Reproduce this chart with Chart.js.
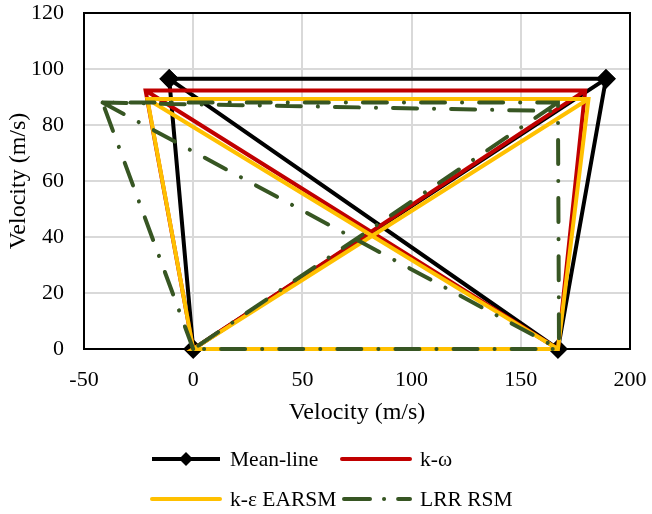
<!DOCTYPE html>
<html>
<head>
<meta charset="utf-8">
<script src="https://cdn.jsdelivr.net/npm/chart.js@4.4.0/dist/chart.umd.min.js"></script>
<style>
  body { margin: 0; background: #fff; }
  #wrap { position: relative; width: 652px; height: 514px; }
  .item { position: absolute; height: 30px; display: flex; align-items: center;
          font-family: "Liberation Serif", "Times New Roman", serif; font-size: 21.5px; color: #000; }
  .item svg { margin-right: 6px; }
</style>
</head>
<body>
<div id="wrap">
  <canvas id="mycanvas" width="652" height="514"></canvas>
  <div class="item" style="left:150px;top:444px">
    <svg width="74" height="20"><line x1="2" y1="10" x2="70" y2="10" stroke="#000" stroke-width="4"/><polygon points="36,3 43,10 36,17 29,10" fill="#000"/></svg>Mean-line</div>
  <div class="item" style="left:340px;top:444px">
    <svg width="74" height="20"><line x1="2" y1="10" x2="70" y2="10" stroke="#C00000" stroke-width="4" stroke-linecap="round"/></svg>k-ω</div>
  <div class="item" style="left:150px;top:484px">
    <svg width="74" height="20"><line x1="2" y1="10" x2="70" y2="10" stroke="#FFC000" stroke-width="4" stroke-linecap="round"/></svg>k-ε EARSM</div>
  <div class="item" style="left:340px;top:484px">
    <svg width="74" height="20"><line x1="4" y1="10" x2="70" y2="10" stroke="#375623" stroke-width="4" stroke-linecap="round" stroke-dasharray="26 14 0.1 14"/></svg>LRR RSM</div>
</div>
<script>
// velocity triangle corners, null = break in the line
var meanX = [0, -11, 189, 167, 0, 189, null, -11, 167];
var meanY = [0, 96.5, 96.5, 0, 0, 96.5, null, 96.5, 0];
var kwX = [0, -21.8, 179.5, 167, 0, 179.5, null, -21.8, 167];
var kwY = [0, 92.3, 92.3, 0, 0, 92.3, null, 92.3, 0];
var keX = [0, -21, 181, 167, 0, 181, null, -21, 167];
var keY = [0, 89.3, 89.3, 0, 0, 89.3, null, 89.3, 0];
var lrrX = [0, -41.5, 167, 167.5, 0, 167, null, -41.5, 167.5, null, -41.5, 165];
var lrrY = [0, 88, 88, 0, 0, 88, null, 88, 0, null, 88, 85];

var xTicks = [-50, 0, 50, 100, 150, 200];
var yTicks = [0, 20, 40, 60, 80, 100, 120];

function pts(xs, ys) {
	var out = [];
	for (var i in xs) {
		out.push({x: xs[i], y: ys[i]});
	}
	return out;
}

var font = "'Liberation Serif', 'Times New Roman', serif";

var boxPlugin = {
	id: 'box',
	beforeDatasetsDraw: function(chart) {
		var a = chart.chartArea, c = chart.ctx;
		c.save();
		c.strokeStyle = '#000';
		c.lineWidth = 2;
		c.strokeRect(a.left, a.top, a.right - a.left, a.bottom - a.top);
		c.restore();
	}
};

var chartdata = {
	datasets: [
		{
			label: 'Mean-line',
			data: pts(meanX, meanY),
			borderColor: '#000',
			backgroundColor: '#000',
			borderWidth: 4,
			pointStyle: 'rectRot',
			pointRadius: 7,
			pointBackgroundColor: '#000',
			order: 4
		},
		{
			label: 'k-ω',
			data: pts(kwX, kwY),
			borderColor: '#C00000',
			borderWidth: 4,
			pointRadius: 0,
			order: 3
		},
		{
			label: 'k-ε EARSM',
			data: pts(keX, keY),
			borderColor: '#FFC000',
			borderWidth: 4,
			pointRadius: 0,
			order: 2
		},
		{
			label: 'LRR RSM',
			data: pts(lrrX, lrrY),
			borderColor: '#375623',
			borderWidth: 4,
			borderDash: [24, 17, 0.1, 17],
			borderCapStyle: 'round',
			pointRadius: 0,
			order: 1
		}
	]
};

var ctx = document.getElementById('mycanvas');

var lineChart = new Chart(ctx, {
	type: 'scatter',
	data: chartdata,
	plugins: [boxPlugin],
	options: {
		responsive: false,
		animation: false,
		showLine: true,
		clip: false,
		layout: { padding: { left: 0, right: 22, top: 13, bottom: 89 } },
		plugins: { legend: { display: false }, tooltip: { enabled: false } },
		scales: {
			x: {
				type: 'linear',
				min: -50, max: 200,
				afterBuildTicks: function(s) { s.ticks = xTicks.map(function(v){ return {value: v}; }); },
				afterFit: function(s) { s.height = 76; s.paddingLeft = 0; s.paddingRight = 0; },
				grid: { color: '#d9d9d9', lineWidth: 2, drawTicks: false },
				border: { display: false },
				ticks: { color: '#000', padding: 18, font: { family: font, size: 22 } },
				title: { display: true, text: 'Velocity (m/s)', color: '#000',
					padding: { top: 0, bottom: -2 }, font: { family: font, size: 24 } }
			},
			y: {
				min: 0, max: 120,
				afterBuildTicks: function(s) { s.ticks = yTicks.map(function(v){ return {value: v}; }); },
				afterFit: function(s) { s.width = 84; s.paddingTop = 0; s.paddingBottom = 0; },
				grid: { color: '#d9d9d9', lineWidth: 2, drawTicks: false },
				border: { display: false },
				ticks: { color: '#000', padding: 20, font: { family: font, size: 22 } },
				title: { display: true, text: 'Velocity (m/s)', color: '#000',
					padding: { top: 4, bottom: 0 }, font: { family: font, size: 24 } }
			}
		}
	}
});
</script>
</body>
</html>
